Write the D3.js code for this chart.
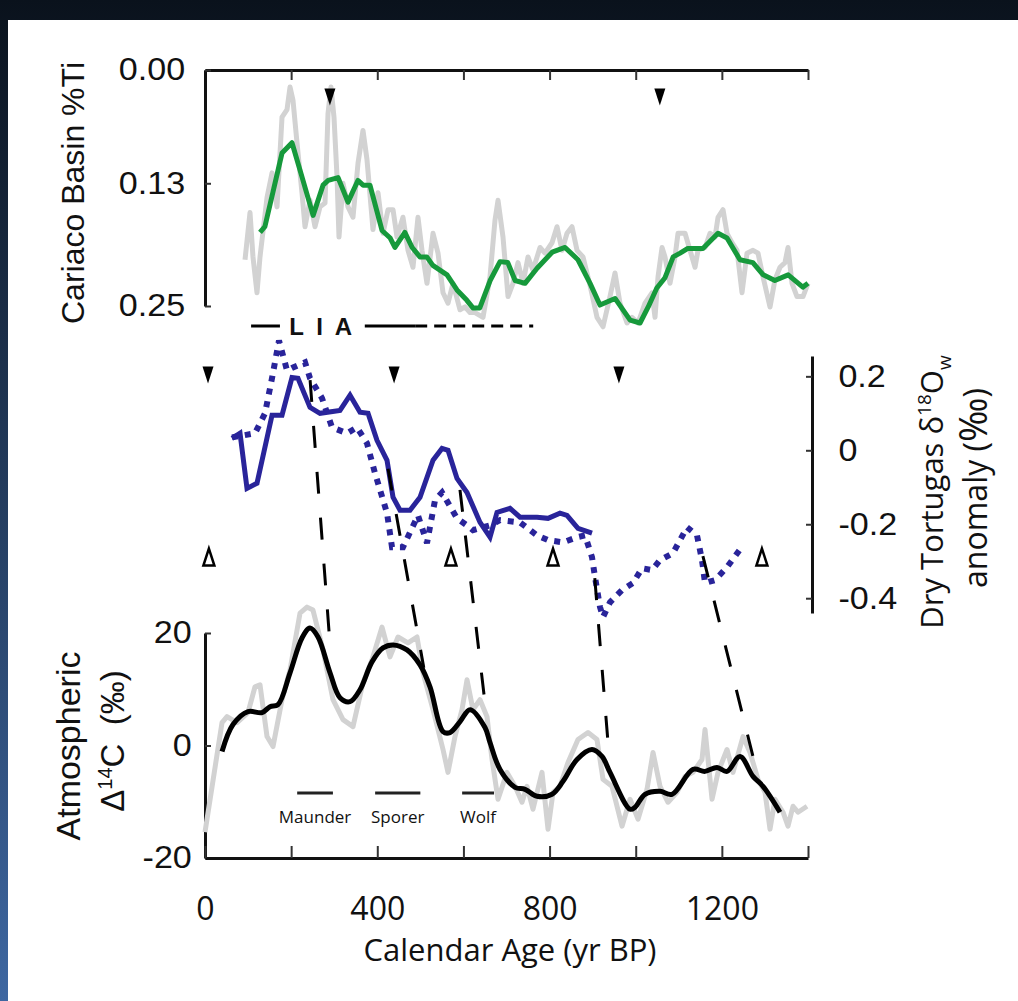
<!DOCTYPE html>
<html>
<head>
<meta charset="utf-8">
<script src="https://cdn.jsdelivr.net/npm/d3@7"></script>
<style>
body { margin: 0; background: #0b131e; }
svg { display: block; }
.helv { font-family: 'Liberation Sans', Arial, sans-serif; fill: #111; }
.myr { font-family: 'Open Sans', sans-serif; fill: #111; }
</style>
</head>
<body>
<svg id="chart" width="1018" height="1001"></svg>
<script>
// ---- data (calendar age yr BP, value) ----
const tiRaw = [[92.9,0.201],[104.5,0.151],[111.4,0.198],[120.7,0.236],[127.7,0.198],[144,0.135],[155.6,0.109],[167.2,0.145],[178.8,0.050],[190.4,0.042],[197.4,0.018],[204.3,0.032],[213.6,0.077],[225.2,0.130],[232.2,0.166],[243.8,0.138],[255.4,0.166],[267,0.145],[278.6,0.141],[285.6,0.046],[292.5,0.018],[299.5,0.050],[306.5,0.113],[311.1,0.177],[320.4,0.120],[332,0.145],[343.6,0.156],[355.2,0.099],[366.8,0.064],[376.1,0.095],[390,0.169],[401.7,0.130],[413.3,0.173],[424.9,0.148],[436.5,0.148],[445.8,0.177],[459.7,0.156],[471.3,0.191],[482.9,0.209],[494.5,0.156],[503.8,0.191],[515.4,0.226],[529.4,0.173],[541,0.194],[552.6,0.236],[564.2,0.247],[575.8,0.226],[592.1,0.254],[603.7,0.251],[615.3,0.257],[626.9,0.257],[645.5,0.262],[661.7,0.219],[673.3,0.159],[680.3,0.138],[691.9,0.177],[703.5,0.240],[715.1,0.226],[726.7,0.204],[738.3,0.226],[749.9,0.198],[761.5,0.212],[777.8,0.188],[789.4,0.194],[805.7,0.183],[817.3,0.166],[828.9,0.191],[840.5,0.173],[852.1,0.166],[863.7,0.191],[877.6,0.198],[893.9,0.228],[910.1,0.262],[924.1,0.272],[940.3,0.240],[951.9,0.215],[963.5,0.247],[979.8,0.268],[991.4,0.262],[1005.3,0.268],[1021.6,0.247],[1037.8,0.236],[1044.8,0.262],[1051.8,0.219],[1061.1,0.188],[1068,0.198],[1079.6,0.226],[1091.2,0.198],[1098.2,0.173],[1114.5,0.173],[1126.1,0.191],[1137.7,0.209],[1144.6,0.191],[1160.9,0.188],[1172.5,0.173],[1184.1,0.177],[1191.1,0.156],[1202.7,0.148],[1212,0.173],[1223.6,0.183],[1235.2,0.191],[1246.8,0.236],[1258.4,0.194],[1272.3,0.191],[1283.9,0.194],[1295.5,0.219],[1311.8,0.251],[1323.4,0.222],[1335,0.209],[1346.6,0.204],[1353.6,0.188],[1362.9,0.226],[1374.5,0.240],[1388.4,0.240],[1400,0.226]];

const tiSmooth = [[127.7,0.172],[139,0.166],[178.8,0.088],[202,0.077],[225,0.113],[251,0.154],[274,0.122],[286,0.117],[309,0.114],[332,0.140],[355,0.117],[367,0.122],[383,0.122],[411,0.170],[430,0.178],[441,0.188],[464,0.172],[481,0.188],[499,0.198],[515,0.198],[529,0.207],[562,0.217],[585,0.233],[608,0.244],[622,0.252],[638,0.252],[662,0.223],[685,0.203],[703,0.204],[720,0.223],[743,0.226],[771,0.210],[806,0.193],[836,0.188],[866,0.201],[894,0.226],[917,0.249],[952,0.242],[987,0.265],[1010,0.268],[1029,0.251],[1049,0.231],[1068,0.220],[1087,0.198],[1103,0.194],[1121,0.189],[1156,0.189],[1191,0.173],[1212,0.178],[1242,0.201],[1272,0.204],[1296,0.217],[1323,0.223],[1354,0.217],[1388,0.230],[1400,0.226]];

const dtSolid = [[62.7,0.032],[81.3,0.046],[97.5,-0.103],[120.7,-0.089],[155.6,0.095],[178.8,0.095],[202,0.197],[215.9,0.195],[243.8,0.116],[267,0.100],[313.4,0.108],[336.7,0.149],[359.9,0.103],[378.5,0.100],[399.3,0.027],[422.6,-0.027],[436.5,-0.127],[452.8,-0.162],[476,-0.162],[499.2,-0.127],[529.4,-0.027],[550.3,0.005],[564.2,0],[585.1,-0.076],[608.3,-0.114],[638.5,-0.195],[661.7,-0.235],[678,-0.168],[708.2,-0.157],[731.4,-0.181],[770.8,-0.181],[796.4,-0.184],[824.2,-0.170],[840.5,-0.176],[866,-0.211],[898.5,-0.224]];

const dtDotted = [[62.7,0.035],[116.1,0.046],[139.3,0.100],[155.6,0.195],[171.8,0.297],[190.4,0.216],[204.3,0.224],[232.2,0.238],[243.8,0.195],[271.7,0.141],[294.9,0.062],[329.7,0.046],[352.9,0.062],[376.1,0.019],[394.7,-0.062],[422.6,-0.170],[434.2,-0.262],[459.7,-0.262],[494.5,-0.176],[515.4,-0.251],[534,-0.135],[550.3,-0.114],[585.1,-0.184],[608.3,-0.203],[622.2,-0.216],[661.7,-0.203],[684.9,-0.189],[731.4,-0.195],[770.8,-0.230],[796.4,-0.243],[831.2,-0.249],[863.7,-0.235],[882.3,-0.230],[898.5,-0.289],[905.5,-0.343],[917.1,-0.424],[924.1,-0.451],[940.3,-0.411],[968.2,-0.378],[993.7,-0.359],[1014.6,-0.319],[1037.8,-0.324],[1056.4,-0.297],[1086.6,-0.278],[1119.1,-0.208],[1142.3,-0.230],[1153.9,-0.297],[1160.9,-0.359],[1184.1,-0.351],[1212,-0.316],[1249.1,-0.257]];

const c14Raw = [[0,-15.4],[39.5,4.07],[51.1,5.13],[74.3,4.07],[99.8,5.84],[116.1,10.44],[127.7,10.80],[144,1.59],[157.9,-0.18],[178.8,8.14],[197.4,13.45],[220.6,23.54],[236.8,24.60],[250.7,24.07],[274,16.99],[297.2,8.14],[320.4,4.60],[343.6,3.36],[366.8,11.15],[387.7,15.22],[411,21.06],[429.5,15.75],[448.1,19.29],[471.3,18.23],[492.2,19.29],[506.2,12.92],[529.4,6.37],[552.6,-0.71],[564.2,-4.78],[580.4,1.59],[596.7,6.37],[608.3,11.68],[622.2,6.37],[638.5,8.14],[654.7,5.13],[666.4,-2.48],[680.3,-9.56],[701.2,-4.78],[719.8,-7.26],[736,-10.09],[747.6,-7.26],[761.5,-11.33],[782.4,-4.78],[796.4,-14.87],[808,-8.32],[824.2,-7.26],[842.8,-3.01],[866,1.06],[889.2,2.30],[910.1,1.06],[924.1,-6.02],[945,-7.26],[968.2,-14.34],[986.8,-9.56],[1005.3,-13.10],[1026.2,-7.79],[1040.2,-1.24],[1056.4,-7.26],[1075,-10.09],[1095.9,-8.32],[1114.5,-5.49],[1133,-4.78],[1153.9,-2.48],[1160.9,2.83],[1177.2,-9.56],[1191.1,-4.78],[1212,-0.71],[1225.9,-4.78],[1249.1,1.59],[1265.4,-1.24],[1283.9,-6.02],[1300.2,-8.32],[1311.8,-14.87],[1323.4,-9.56],[1342,-11.86],[1353.6,-14.34],[1365.2,-10.80],[1376.8,-11.86],[1397.7,-10.80]];

const c14Smooth = [[39.5,-1.06],[65,3.72],[99.8,6.02],[132.3,5.84],[150.9,6.90],[169.5,7.26],[197.4,12.92],[225.2,19.12],[243.8,20.88],[262.4,19.29],[290.3,12.92],[313.4,8.50],[336.7,7.79],[359.9,9.91],[387.7,14.87],[413.3,17.35],[436.5,17.88],[469,16.99],[499.2,14.34],[522.4,10.44],[552.6,2.48],[568.8,2.30],[592.1,4.25],[615.3,6.37],[650.1,3.19],[661.7,0.53],[684.9,-4.25],[719.8,-7.43],[743,-7.79],[770.8,-9.03],[805.7,-8.67],[831.2,-6.37],[863.7,-2.48],[898.5,-0.71],[921.8,-1.95],[940.3,-4.78],[986.8,-11.33],[998.4,-10.97],[1021.6,-8.67],[1056.4,-8.14],[1084.3,-8.67],[1133,-4.25],[1160.9,-4.60],[1188.8,-3.89],[1212,-4.60],[1242.2,-1.95],[1272.3,-5.49],[1295.5,-7.26],[1335,-11.86]];

// tie lines: [year at δ18O, δ18O, year at Δ14C, Δ14C]
const tieLines = [[244,0.19,290,18.2],[425,-0.05,508,13.8],[592,-0.107,650,7.6],[905,-0.346,936,0.2],[1156,-0.286,1277,-3.4]];

// age-control triangles (yr BP)
const tiMarkers = [290, 1056];
const dtFilledMarkers = [7, 439, 961];
const dtOpenMarkers = [9, 571, 808, 1293];

// annotations
const liaSolid = [[107,174],[371,488]];
const liaDashed = [488,762];
const solarMinima = [["Maunder",214,297],["Sporer",395,500],["Wolf",597,671]];

const xTicks = [0,200,400,600,800,1000,1200,1400];
const xLabelTicks = [0,400,800,1200];
const tiTicks = [0,0.12,0.25];
const tiTickLabels = ["0.00","0.13","0.25"];
const dtTicks = [0.2,0,-0.2,-0.4];
const c14Ticks = [-20,0,20];

// ---- layout ----
const svg = d3.select("#chart");

const defs = svg.append("defs");
const grad = defs.append("linearGradient").attr("id","bg").attr("x1",0).attr("y1",0).attr("x2",0).attr("y2",1);
grad.append("stop").attr("offset","0%").attr("stop-color","#0a121c");
grad.append("stop").attr("offset","100%").attr("stop-color","#3e67a1");
svg.append("rect").attr("width",1018).attr("height",1001).attr("fill","url(#bg)");
svg.append("rect").attr("x",8).attr("y",20).attr("width",1010).attr("height",981).attr("fill","#fff");

const x = d3.scaleLinear().domain([0,1400]).range([205,808]);
const yTi = d3.scaleLinear().domain([0,0.25]).range([70,306]);
const yDt = d3.scaleLinear().domain([-0.44,0.255]).range([613,356]);
const yC = d3.scaleLinear().domain([-20,20]).range([858,633]);

const greyC = "#d2d2d2", green = "#16993b", blue = "#29249a";

// Helvetica-style tick labels in the figure are a little wide
function styleAxis(g, fs) {
  g.select(".domain").attr("stroke","#111").attr("stroke-width",3);
  g.selectAll(".tick line").attr("stroke","#333").attr("stroke-width",2);
  g.selectAll(".tick text").attr("class","helv").attr("font-size",fs).attr("fill","#111")
    .attr("transform","scale(1.1,1)");
  g.attr("font-family",null).attr("font-size",null);
}

// top axis (Cariaco)
svg.append("g").attr("transform","translate(0,70)")
  .call(d3.axisTop(x).tickValues(xTicks).tickSizeInner(-10).tickSizeOuter(0).tickFormat(""))
  .call(g => styleAxis(g, 31));

svg.append("g").attr("transform","translate(205,0)")
  .call(d3.axisLeft(yTi).tickValues(tiTicks).tickSizeInner(-6).tickSizeOuter(0).tickPadding(18)
    .tickFormat((d,i) => tiTickLabels[i]))
  .call(g => styleAxis(g, 31));

// right axis (Dry Tortugas)
svg.append("g").attr("transform","translate(812,0)")
  .call(d3.axisRight(yDt).tickValues(dtTicks).tickSizeInner(-6).tickSizeOuter(0).tickPadding(24)
    .tickFormat(d => String(d)))
  .call(g => styleAxis(g, 31));

// bottom axes (Δ14C)
svg.append("g").attr("transform","translate(205,0)")
  .call(d3.axisLeft(yC).tickValues(c14Ticks).tickSizeInner(-6).tickSizeOuter(0).tickPadding(12)
    .tickFormat(d => String(d)))
  .call(g => styleAxis(g, 31));

svg.append("g").attr("transform","translate(0,858)")
  .call(d3.axisBottom(x).tickValues(xTicks).tickSizeInner(-12).tickSizeOuter(0).tickPadding(39)
    .tickFormat(d => xLabelTicks.includes(d) ? String(d) : ""))
  .call(g => {
    styleAxis(g, 32);
    g.selectAll(".tick text").attr("class","myr").attr("font-size",32).attr("transform",null);
  });

// ---- series ----
const lineTi = d3.line().x(d => x(d[0])).y(d => yTi(d[1]));
const lineDt = d3.line().x(d => x(d[0])).y(d => yDt(d[1]));
const lineC = d3.line().x(d => x(d[0])).y(d => yC(d[1]));

svg.append("path").datum(tiRaw).attr("d", lineTi)
  .attr("fill","none").attr("stroke",greyC).attr("stroke-width",5).attr("stroke-linejoin","round");
svg.append("path").datum(tiSmooth).attr("d", lineTi)
  .attr("fill","none").attr("stroke",green).attr("stroke-width",5).attr("stroke-linejoin","round");

svg.append("path").datum(c14Raw).attr("d", lineC)
  .attr("fill","none").attr("stroke",greyC).attr("stroke-width",5).attr("stroke-linejoin","round");
svg.append("path").datum(c14Smooth).attr("d", lineC.curve(d3.curveCatmullRom))
  .attr("fill","none").attr("stroke","#000").attr("stroke-width",5).attr("stroke-linejoin","round");

svg.append("path").datum(dtDotted).attr("d", lineDt)
  .attr("fill","none").attr("stroke",blue).attr("stroke-width",6).attr("stroke-dasharray","6,7");
svg.append("path").datum(dtSolid).attr("d", lineDt)
  .attr("fill","none").attr("stroke",blue).attr("stroke-width",5).attr("stroke-linejoin","miter");

// tie lines
svg.append("g").selectAll("line").data(tieLines).join("line")
  .attr("x1", d => x(d[0])).attr("y1", d => yDt(d[1]))
  .attr("x2", d => x(d[2])).attr("y2", d => yC(d[3]))
  .attr("stroke","#000").attr("stroke-width",3).attr("stroke-dasharray","22,24");

// ---- markers ----
const tri = 17, half = 5.5;
function downTri(cx, cy) { return `M${cx-half},${cy-tri/2}L${cx+half},${cy-tri/2}L${cx},${cy+tri/2}Z`; }
function upTri(cx, cy) { return `M${cx-half},${cy+tri/2}L${cx+half},${cy+tri/2}L${cx},${cy-tri/2}Z`; }

svg.append("g").selectAll("path").data(tiMarkers).join("path")
  .attr("d", d => downTri(x(d), 97)).attr("fill","#000");
svg.append("g").selectAll("path").data(dtFilledMarkers).join("path")
  .attr("d", d => downTri(x(d), 375)).attr("fill","#000");
svg.append("g").selectAll("path").data(dtOpenMarkers).join("path")
  .attr("d", d => upTri(x(d), 557)).attr("fill","#fff").attr("stroke","#000").attr("stroke-width",2.5)
  .attr("stroke-linejoin","miter");

// ---- LIA annotation ----
const liaY = 326;
svg.append("g").selectAll("line").data(liaSolid).join("line")
  .attr("x1", d => x(d[0])).attr("x2", d => x(d[1])).attr("y1", liaY).attr("y2", liaY)
  .attr("stroke","#000").attr("stroke-width",3);
svg.append("line").attr("x1", x(liaDashed[0])).attr("x2", x(liaDashed[1]))
  .attr("y1", liaY).attr("y2", liaY).attr("stroke","#000").attr("stroke-width",3).attr("stroke-dasharray","12,7");
svg.append("text").attr("class","helv").attr("x", x(272)).attr("y", liaY + 9)
  .attr("text-anchor","middle").attr("font-size",24).attr("font-weight","bold")
  .attr("letter-spacing", 3).text("L I A");

// ---- solar minima ----
const sm = svg.append("g").selectAll("g").data(solarMinima).join("g");
sm.append("line").attr("x1", d => x(d[1])).attr("x2", d => x(d[2])).attr("y1",793).attr("y2",793)
  .attr("stroke","#222").attr("stroke-width",3);
sm.append("text").attr("class","myr").attr("x", d => x((d[1]+d[2])/2)).attr("y", 823)
  .attr("text-anchor","middle").attr("font-size",17).attr("fill","#333").text(d => d[0]);

// ---- axis titles ----
svg.append("text").attr("class","helv").attr("transform","translate(84,193) rotate(-90)")
  .attr("text-anchor","middle").attr("font-size",32).text("Cariaco Basin %Ti");

svg.append("text").attr("class","helv").attr("transform","translate(80,746) rotate(-90)")
  .attr("text-anchor","middle").attr("font-size",34).text("Atmospheric");
const c14t = svg.append("text").attr("class","helv").attr("transform","translate(124,741) rotate(-90)")
  .attr("text-anchor","middle").attr("font-size",33);
c14t.append("tspan").text("Δ");
c14t.append("tspan").attr("dy",-12).attr("font-size",20).text("14");
c14t.append("tspan").attr("dy",12).text("C\u00a0\u00a0(‰)");

const dtt = svg.append("text").attr("class","myr").attr("transform","translate(943,492) rotate(-90)")
  .attr("text-anchor","middle").attr("font-size",31);
dtt.append("tspan").text("Dry Tortugas δ");
dtt.append("tspan").attr("dy",-12).attr("font-size",19).text("18");
dtt.append("tspan").attr("dy",12).text("O");
dtt.append("tspan").attr("dy",8).attr("font-size",19).text("w");
const ant = svg.append("text").attr("class","myr").attr("transform","translate(987,488) rotate(-90)")
  .attr("text-anchor","middle").attr("font-size",32);
ant.append("tspan").text("anomaly (");
ant.append("tspan").attr("font-size",38).text("‰");
ant.append("tspan").text(")");

svg.append("text").attr("class","myr").attr("x",510).attr("y",961)
  .attr("text-anchor","middle").attr("font-size",31).text("Calendar Age (yr BP)");
</script>
</body>
</html>
